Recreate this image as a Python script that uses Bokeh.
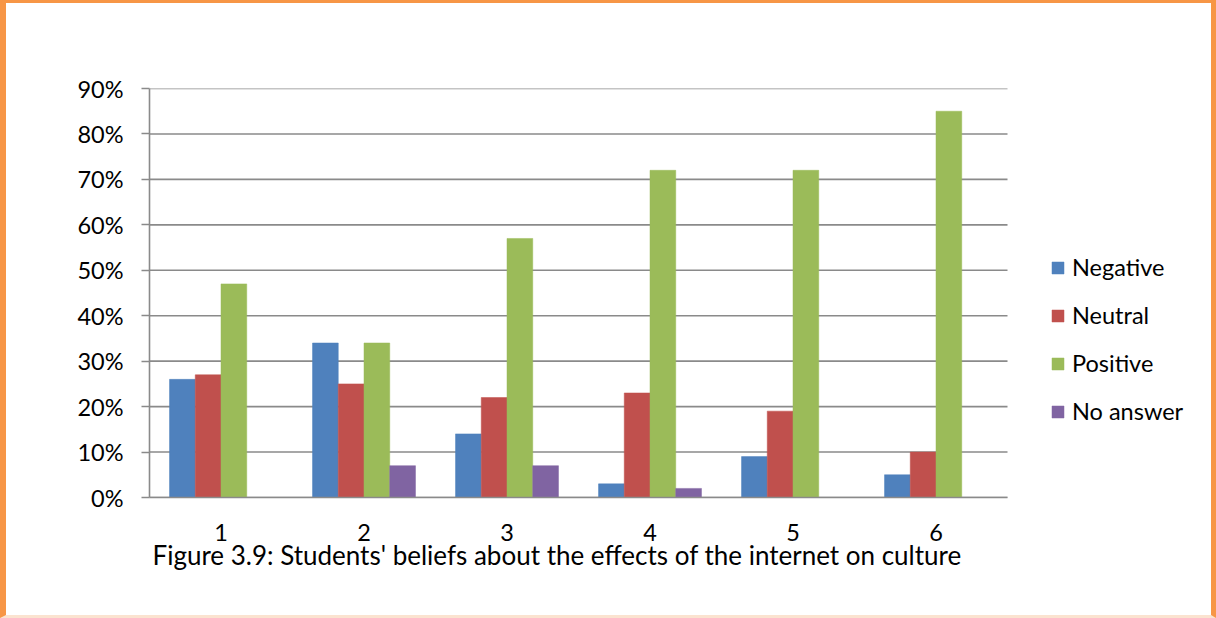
from bokeh.plotting import figure
from bokeh.models import (Legend, LegendItem, Title, NumeralTickFormatter,
                          FixedTicker, Range1d)
from bokeh.layouts import column
from bokeh.transform import dodge
from bokeh.embed import file_html
from bokeh.resources import INLINE

# Survey results per question (share of students)
questions = [1, 2, 3, 4, 5, 6]
negative = [0.26, 0.34, 0.14, 0.03, 0.09, 0.05]
neutral = [0.27, 0.25, 0.22, 0.23, 0.19, 0.10]
positive = [0.47, 0.34, 0.57, 0.72, 0.72, 0.85]
no_answer = [0.00, 0.07, 0.07, 0.02, 0.00, 0.00]
y_ticks = [0.0, 0.1, 0.2, 0.3, 0.4, 0.5, 0.6, 0.7, 0.8, 0.9]
caption = "Figure 3.9: Students' beliefs about the effects of the internet on culture"

FONT = "Lato"
GRID = "#8a8a8a"

series = [
    ("Negative", negative, "#4F81BD", -0.27),
    ("Neutral", neutral, "#C0504D", -0.09),
    ("Positive", positive, "#9BBB59", 0.09),
    ("No answer", no_answer, "#8064A2", 0.27),
]

W, H = 1205, 612
LEFT = 143
# the frame runs to the right edge so the legend can sit beside the bars;
# one category step is 143 px wide
x_end = 0.5 + (W - LEFT) / 143.0

p = figure(
    width=W, height=H,
    x_range=Range1d(0.5, x_end),
    y_range=Range1d(0, 0.9),
    output_backend="svg", toolbar_location=None,
    min_border_left=LEFT, min_border_right=0,
    min_border_top=85, min_border_bottom=118,
)
p.outline_line_color = None
p.background_fill_color = "white"
p.border_fill_color = "white"
p.xgrid.grid_line_color = None
p.ygrid.grid_line_color = None

# horizontal gridlines limited to the category span
p.segment(x0=[0.5] * len(y_ticks), x1=[6.5] * len(y_ticks), y0=y_ticks, y1=y_ticks,
          line_color=GRID, line_width=1.6)

data = {"q": questions}
for name, vals, color, off in series:
    data[name] = vals

items = []
for name, vals, color, off in series:
    r = p.vbar(x=dodge("q", off), top=name, width=0.18,
               source=data, fill_color=color, line_color=color, line_width=0.5)
    items.append(LegendItem(label=name, renderers=[r]))

# y axis
p.yaxis.ticker = FixedTicker(ticks=y_ticks)
p.yaxis.formatter = NumeralTickFormatter(format="0%")
p.yaxis.axis_line_color = GRID
p.yaxis.axis_line_width = 1.6
p.yaxis.major_tick_line_color = GRID
p.yaxis.major_tick_line_width = 1.6
p.yaxis.major_tick_out = 8
p.yaxis.major_tick_in = 0
p.yaxis.minor_tick_line_color = None
p.yaxis.major_label_standoff = 18
p.yaxis.major_label_text_font = FONT
p.yaxis.major_label_text_font_size = "23.5px"
p.yaxis.major_label_text_color = "black"

# x axis
p.xaxis.ticker = FixedTicker(ticks=questions)
p.xaxis.bounds = (0.5, 6.5)
p.xaxis.axis_line_color = GRID
p.xaxis.axis_line_width = 1.6
p.xaxis.major_tick_line_color = None
p.xaxis.minor_tick_line_color = None
p.xaxis.major_tick_out = 0
p.xaxis.major_tick_in = 0
p.xaxis.major_label_standoff = 26
p.xaxis.major_label_text_font = FONT
p.xaxis.major_label_text_font_size = "23.5px"
p.xaxis.major_label_text_color = "black"

legend = Legend(items=items, location=(901, 72), orientation="vertical",
                glyph_width=15, glyph_height=15, label_standoff=7,
                label_height=20, spacing=20, padding=0, margin=0,
                border_line_color=None, background_fill_alpha=0,
                label_text_font=FONT, label_text_font_size="23.5px",
                label_text_color="black")
p.add_layout(legend, "center")

cap = Title(text=caption, align="left", offset=3, standoff=-14,
            text_font=FONT, text_font_size="26px", text_font_style="normal",
            text_color="black")
p.add_layout(cap, "below")

page = column(p, styles={
    "border-top": "3px solid #F79646",
    "border-left": "6px solid #F79646",
    "border-right": "5px solid #F79646",
    "border-bottom": "3px solid #FBE3D0",
})

open("out.html", "w").write(file_html(page, INLINE))
